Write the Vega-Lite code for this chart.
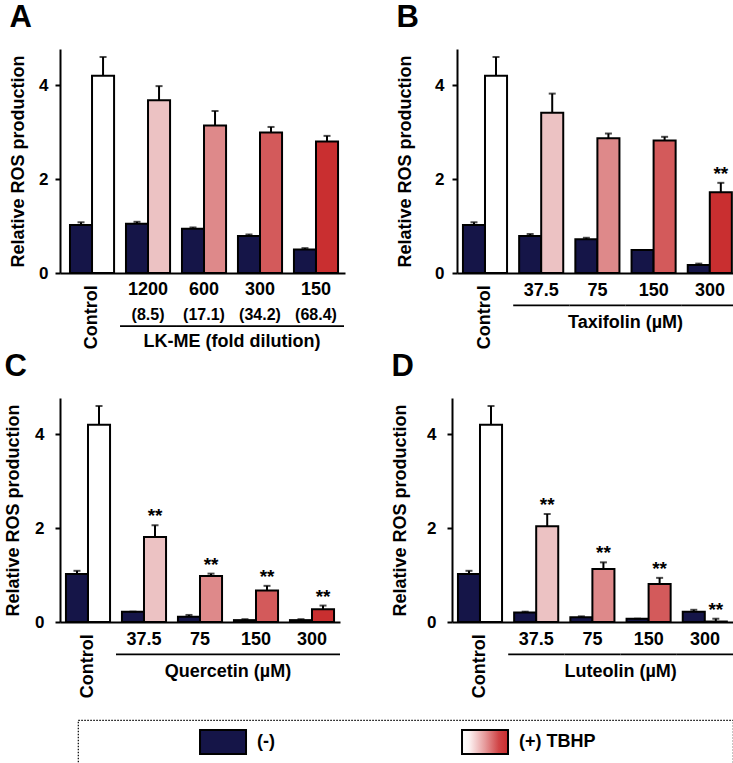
{
  "$schema": "https://vega.github.io/schema/vega-lite/v6.json",
  "padding": {"left": 4, "top": 2, "right": 0, "bottom": 0},
  "datasets": {
    "barsA": [
      {"group": "Control", "tbhp": "-", "dose": 0, "mean": 1.02, "upper": 1.08, "sig": ""},
      {"group": "Control", "tbhp": "+", "dose": 0, "mean": 4.2, "upper": 4.6, "sig": ""},
      {"group": "1200", "tbhp": "-", "dose": 1, "mean": 1.05, "upper": 1.09, "sig": ""},
      {"group": "1200", "tbhp": "+", "dose": 1, "mean": 3.68, "upper": 3.98, "sig": ""},
      {"group": "600", "tbhp": "-", "dose": 2, "mean": 0.94, "upper": 0.97, "sig": ""},
      {"group": "600", "tbhp": "+", "dose": 2, "mean": 3.14, "upper": 3.45, "sig": ""},
      {"group": "300", "tbhp": "-", "dose": 3, "mean": 0.79, "upper": 0.82, "sig": ""},
      {"group": "300", "tbhp": "+", "dose": 3, "mean": 2.99, "upper": 3.11, "sig": ""},
      {"group": "150", "tbhp": "-", "dose": 4, "mean": 0.5, "upper": 0.53, "sig": ""},
      {"group": "150", "tbhp": "+", "dose": 4, "mean": 2.8, "upper": 2.92, "sig": ""}
    ],
    "barsB": [
      {"group": "Control", "tbhp": "-", "dose": 0, "mean": 1.02, "upper": 1.08, "sig": ""},
      {"group": "Control", "tbhp": "+", "dose": 0, "mean": 4.2, "upper": 4.6, "sig": ""},
      {"group": "37.5", "tbhp": "-", "dose": 1, "mean": 0.79, "upper": 0.83, "sig": ""},
      {"group": "37.5", "tbhp": "+", "dose": 1, "mean": 3.41, "upper": 3.82, "sig": ""},
      {"group": "75", "tbhp": "-", "dose": 2, "mean": 0.72, "upper": 0.75, "sig": ""},
      {"group": "75", "tbhp": "+", "dose": 2, "mean": 2.87, "upper": 2.97, "sig": ""},
      {"group": "150", "tbhp": "-", "dose": 3, "mean": 0.49, "upper": 0.49, "sig": ""},
      {"group": "150", "tbhp": "+", "dose": 3, "mean": 2.82, "upper": 2.9, "sig": ""},
      {"group": "300", "tbhp": "-", "dose": 4, "mean": 0.17, "upper": 0.2, "sig": ""},
      {"group": "300", "tbhp": "+", "dose": 4, "mean": 1.72, "upper": 1.92, "sig": "**"}
    ],
    "barsC": [
      {"group": "Control", "tbhp": "-", "dose": 0, "mean": 1.02, "upper": 1.09, "sig": ""},
      {"group": "Control", "tbhp": "+", "dose": 0, "mean": 4.2, "upper": 4.6, "sig": ""},
      {"group": "37.5", "tbhp": "-", "dose": 1, "mean": 0.22, "upper": 0.22, "sig": ""},
      {"group": "37.5", "tbhp": "+", "dose": 1, "mean": 1.81, "upper": 2.06, "sig": "**"},
      {"group": "75", "tbhp": "-", "dose": 2, "mean": 0.11, "upper": 0.15, "sig": ""},
      {"group": "75", "tbhp": "+", "dose": 2, "mean": 0.98, "upper": 1.03, "sig": "**"},
      {"group": "150", "tbhp": "-", "dose": 3, "mean": 0.04, "upper": 0.06, "sig": ""},
      {"group": "150", "tbhp": "+", "dose": 3, "mean": 0.67, "upper": 0.77, "sig": "**"},
      {"group": "300", "tbhp": "-", "dose": 4, "mean": 0.04, "upper": 0.06, "sig": ""},
      {"group": "300", "tbhp": "+", "dose": 4, "mean": 0.27, "upper": 0.35, "sig": "**"}
    ],
    "barsD": [
      {"group": "Control", "tbhp": "-", "dose": 0, "mean": 1.02, "upper": 1.09, "sig": ""},
      {"group": "Control", "tbhp": "+", "dose": 0, "mean": 4.2, "upper": 4.6, "sig": ""},
      {"group": "37.5", "tbhp": "-", "dose": 1, "mean": 0.2, "upper": 0.22, "sig": ""},
      {"group": "37.5", "tbhp": "+", "dose": 1, "mean": 2.04, "upper": 2.3, "sig": "**"},
      {"group": "75", "tbhp": "-", "dose": 2, "mean": 0.1, "upper": 0.12, "sig": ""},
      {"group": "75", "tbhp": "+", "dose": 2, "mean": 1.13, "upper": 1.27, "sig": "**"},
      {"group": "150", "tbhp": "-", "dose": 3, "mean": 0.07, "upper": 0.07, "sig": ""},
      {"group": "150", "tbhp": "+", "dose": 3, "mean": 0.81, "upper": 0.94, "sig": "**"},
      {"group": "300", "tbhp": "-", "dose": 4, "mean": 0.22, "upper": 0.26, "sig": ""},
      {"group": "300", "tbhp": "+", "dose": 4, "mean": 0.01, "upper": 0.07, "sig": "**"}
    ],
    "labA": [
      {"group": "1200", "main": "1200", "sub": "(8.5)"},
      {"group": "600", "main": "600", "sub": "(17.1)"},
      {"group": "300", "main": "300", "sub": "(34.2)"},
      {"group": "150", "main": "150", "sub": "(68.4)"}
    ],
    "labConc": [
      {"group": "37.5", "main": "37.5"},
      {"group": "75", "main": "75"},
      {"group": "150", "main": "150"},
      {"group": "300", "main": "300"}
    ],
    "ctrl": [{"group": "Control", "text": "Control"}]
  },
  "vconcat": [
    {
      "vconcat": [
        {
          "hconcat": [
            {
              "title": {"text": "A"},
              "width": 285,
              "height": 224,
              "encoding": {
                "x": {"field": "group", "type": "nominal", "scale": {"domain": ["Control", "1200", "600", "300", "150"], "paddingInner": 0, "paddingOuter": 0.045, "align": 0.8}, "axis": {"labels": false, "ticks": false, "title": null}}
              },
              "layer": [
                {"data": {"name": "barsA"}, "mark": {"type": "bar", "stroke": "black", "strokeWidth": 2},
                 "encoding": {
                   "xOffset": {"field": "tbhp", "type": "nominal", "scale": {"domain": ["-", "+"], "paddingInner": 0, "paddingOuter": 0.27}},
                   "y": {"field": "mean", "type": "quantitative", "scale": {"domain": [0, 4.77], "nice": false}, "axis": {"values": [0, 2, 4], "title": "Relative ROS production", "labelPadding": 7, "titlePadding": 11}},
                   "fill": {"condition": {"test": "datum.tbhp === '-'", "value": "#151548"}, "field": "dose", "type": "ordinal", "scale": {"domain": [0, 1, 2, 3, 4], "range": ["#ffffff", "#ecc2c3", "#de898a", "#d35a5b", "#c92f30"]}, "legend": null}
                 }},
                {"data": {"name": "barsA"}, "mark": {"type": "rule", "color": "black", "strokeWidth": 2},
                 "encoding": {"xOffset": {"field": "tbhp", "type": "nominal"}, "y": {"field": "mean", "type": "quantitative"}, "y2": {"field": "upper"}}},
                {"data": {"name": "barsA"}, "mark": {"type": "tick", "color": "black", "thickness": 2, "size": 7},
                 "encoding": {"xOffset": {"field": "tbhp", "type": "nominal"}, "y": {"field": "upper", "type": "quantitative"}}},
                {"data": {"name": "labA"}, "mark": {"type": "text", "fontSize": 18, "fontWeight": "bold", "baseline": "middle", "color": "black"},
                 "encoding": {"y": {"datum": -0.37}, "text": {"field": "main"}}},
                {"data": {"name": "labA"}, "mark": {"type": "text", "fontSize": 16, "fontWeight": "bold", "baseline": "middle", "color": "black"},
                 "encoding": {"y": {"datum": -0.89}, "text": {"field": "sub"}}},
                {"data": {"name": "labA"}, "mark": {"type": "bar", "color": "black"},
                 "encoding": {"y": {"datum": -1.11}, "y2": {"datum": -1.15}}},
                {"data": {"name": "ctrl"}, "mark": {"type": "text", "angle": 270, "align": "right", "baseline": "middle", "fontSize": 18, "fontWeight": "bold", "color": "black"},
                 "encoding": {"y": {"datum": -0.26}, "text": {"field": "text"}}},
                {"data": {"values": [{"group": "600", "text": "LK-ME (fold dilution)"}]}, "mark": {"type": "text", "fontSize": 18, "fontWeight": "bold", "baseline": "middle", "color": "black"},
                 "encoding": {"x": {"field": "group", "type": "nominal", "bandPosition": 1, "scale": {"domain": ["Control", "1200", "600", "300", "150"], "paddingInner": 0, "paddingOuter": 0.045, "align": 0.8}}, "y": {"datum": -1.47}, "text": {"field": "text"}}}
              ]
            },
            {
              "title": {"text": "B"},
              "width": 281,
              "height": 224,
              "encoding": {
                "x": {"field": "group", "type": "nominal", "scale": {"domain": ["Control", "37.5", "75", "150", "300"], "paddingInner": 0, "paddingOuter": 0}, "axis": {"labels": false, "ticks": false, "title": null}}
              },
              "layer": [
                {"data": {"name": "barsB"}, "mark": {"type": "bar", "stroke": "black", "strokeWidth": 2},
                 "encoding": {
                   "xOffset": {"field": "tbhp", "type": "nominal", "scale": {"domain": ["-", "+"], "paddingInner": 0, "paddingOuter": 0.27}},
                   "y": {"field": "mean", "type": "quantitative", "scale": {"domain": [0, 4.77], "nice": false}, "axis": {"values": [0, 2, 4], "title": "Relative ROS production", "labelPadding": 8, "titlePadding": 20}},
                   "fill": {"condition": {"test": "datum.tbhp === '-'", "value": "#151548"}, "field": "dose", "type": "ordinal", "scale": {"domain": [0, 1, 2, 3, 4], "range": ["#ffffff", "#ecc2c3", "#de898a", "#d35a5b", "#c92f30"]}, "legend": null}
                 }},
                {"data": {"name": "barsB"}, "mark": {"type": "rule", "color": "black", "strokeWidth": 2},
                 "encoding": {"xOffset": {"field": "tbhp", "type": "nominal"}, "y": {"field": "mean", "type": "quantitative"}, "y2": {"field": "upper"}}},
                {"data": {"name": "barsB"}, "mark": {"type": "tick", "color": "black", "thickness": 2, "size": 7},
                 "encoding": {"xOffset": {"field": "tbhp", "type": "nominal"}, "y": {"field": "upper", "type": "quantitative"}}},
                {"data": {"name": "barsB"}, "transform": [{"filter": "datum.sig != ''"}], "mark": {"type": "text", "fontSize": 19, "fontWeight": "bold", "baseline": "alphabetic", "dy": -3, "color": "black"},
                 "encoding": {"xOffset": {"field": "tbhp", "type": "nominal"}, "y": {"field": "upper", "type": "quantitative"}, "text": {"field": "sig"}}},
                {"data": {"name": "labConc"}, "mark": {"type": "text", "fontSize": 18, "fontWeight": "bold", "baseline": "middle", "color": "black"},
                 "encoding": {"y": {"datum": -0.38}, "text": {"field": "main"}}},
                {"data": {"name": "labConc"}, "mark": {"type": "bar", "color": "black"},
                 "encoding": {"y": {"datum": -0.67}, "y2": {"datum": -0.71}}},
                {"data": {"name": "ctrl"}, "mark": {"type": "text", "angle": 270, "align": "right", "baseline": "middle", "fontSize": 18, "fontWeight": "bold", "color": "black"},
                 "encoding": {"y": {"datum": -0.26}, "text": {"field": "text"}}},
                {"data": {"values": [{"group": "75", "text": "Taxifolin (µM)"}]}, "mark": {"type": "text", "fontSize": 18, "fontWeight": "bold", "baseline": "middle", "color": "black"},
                 "encoding": {"x": {"field": "group", "type": "nominal", "bandPosition": 1, "scale": {"domain": ["Control", "37.5", "75", "150", "300"], "paddingInner": 0, "paddingOuter": 0}}, "y": {"datum": -1.07}, "text": {"field": "text"}}}
              ]
            }
          ],
          "spacing": 51
        },
        {
          "hconcat": [
            {
              "title": {"text": "C"},
              "width": 280,
              "height": 224,
              "encoding": {
                "x": {"field": "group", "type": "nominal", "scale": {"domain": ["Control", "37.5", "75", "150", "300"], "paddingInner": 0, "paddingOuter": 0}, "axis": {"labels": false, "ticks": false, "title": null}}
              },
              "layer": [
                {"data": {"name": "barsC"}, "mark": {"type": "bar", "stroke": "black", "strokeWidth": 2},
                 "encoding": {
                   "xOffset": {"field": "tbhp", "type": "nominal", "scale": {"domain": ["-", "+"], "paddingInner": 0, "paddingOuter": 0.27}},
                   "y": {"field": "mean", "type": "quantitative", "scale": {"domain": [0, 4.77], "nice": false}, "axis": {"values": [0, 2, 4], "title": "Relative ROS production", "labelPadding": 11, "titlePadding": 12}},
                   "fill": {"condition": {"test": "datum.tbhp === '-'", "value": "#151548"}, "field": "dose", "type": "ordinal", "scale": {"domain": [0, 1, 2, 3, 4], "range": ["#ffffff", "#ecc2c3", "#de898a", "#d35a5b", "#c92f30"]}, "legend": null}
                 }},
                {"data": {"name": "barsC"}, "mark": {"type": "rule", "color": "black", "strokeWidth": 2},
                 "encoding": {"xOffset": {"field": "tbhp", "type": "nominal"}, "y": {"field": "mean", "type": "quantitative"}, "y2": {"field": "upper"}}},
                {"data": {"name": "barsC"}, "mark": {"type": "tick", "color": "black", "thickness": 2, "size": 7},
                 "encoding": {"xOffset": {"field": "tbhp", "type": "nominal"}, "y": {"field": "upper", "type": "quantitative"}}},
                {"data": {"name": "barsC"}, "transform": [{"filter": "datum.sig != ''"}], "mark": {"type": "text", "fontSize": 19, "fontWeight": "bold", "baseline": "alphabetic", "dy": -3, "color": "black"},
                 "encoding": {"xOffset": {"field": "tbhp", "type": "nominal"}, "y": {"field": "upper", "type": "quantitative"}, "text": {"field": "sig"}}},
                {"data": {"name": "labConc"}, "mark": {"type": "text", "fontSize": 18, "fontWeight": "bold", "baseline": "middle", "color": "black"},
                 "encoding": {"y": {"datum": -0.38}, "text": {"field": "main"}}},
                {"data": {"name": "labConc"}, "mark": {"type": "bar", "color": "black"},
                 "encoding": {"y": {"datum": -0.67}, "y2": {"datum": -0.71}}},
                {"data": {"name": "ctrl"}, "mark": {"type": "text", "angle": 270, "align": "right", "baseline": "middle", "fontSize": 18, "fontWeight": "bold", "color": "black"},
                 "encoding": {"y": {"datum": -0.26}, "text": {"field": "text"}}},
                {"data": {"values": [{"group": "75", "text": "Quercetin (µM)"}]}, "mark": {"type": "text", "fontSize": 18, "fontWeight": "bold", "baseline": "middle", "color": "black"},
                 "encoding": {"x": {"field": "group", "type": "nominal", "bandPosition": 1, "scale": {"domain": ["Control", "37.5", "75", "150", "300"], "paddingInner": 0, "paddingOuter": 0}}, "y": {"datum": -1.07}, "text": {"field": "text"}}}
              ]
            },
            {
              "title": {"text": "D"},
              "width": 281,
              "height": 224,
              "encoding": {
                "x": {"field": "group", "type": "nominal", "scale": {"domain": ["Control", "37.5", "75", "150", "300"], "paddingInner": 0, "paddingOuter": 0}, "axis": {"labels": false, "ticks": false, "title": null}}
              },
              "layer": [
                {"data": {"name": "barsD"}, "mark": {"type": "bar", "stroke": "black", "strokeWidth": 2},
                 "encoding": {
                   "xOffset": {"field": "tbhp", "type": "nominal", "scale": {"domain": ["-", "+"], "paddingInner": 0, "paddingOuter": 0.27}},
                   "y": {"field": "mean", "type": "quantitative", "scale": {"domain": [0, 4.77], "nice": false}, "axis": {"values": [0, 2, 4], "title": "Relative ROS production", "labelPadding": 11, "titlePadding": 17}},
                   "fill": {"condition": {"test": "datum.tbhp === '-'", "value": "#151548"}, "field": "dose", "type": "ordinal", "scale": {"domain": [0, 1, 2, 3, 4], "range": ["#ffffff", "#ecc2c3", "#de898a", "#d35a5b", "#c92f30"]}, "legend": null}
                 }},
                {"data": {"name": "barsD"}, "mark": {"type": "rule", "color": "black", "strokeWidth": 2},
                 "encoding": {"xOffset": {"field": "tbhp", "type": "nominal"}, "y": {"field": "mean", "type": "quantitative"}, "y2": {"field": "upper"}}},
                {"data": {"name": "barsD"}, "mark": {"type": "tick", "color": "black", "thickness": 2, "size": 7},
                 "encoding": {"xOffset": {"field": "tbhp", "type": "nominal"}, "y": {"field": "upper", "type": "quantitative"}}},
                {"data": {"name": "barsD"}, "transform": [{"filter": "datum.sig != ''"}], "mark": {"type": "text", "fontSize": 19, "fontWeight": "bold", "baseline": "alphabetic", "dy": -3, "color": "black"},
                 "encoding": {"xOffset": {"field": "tbhp", "type": "nominal"}, "y": {"field": "upper", "type": "quantitative"}, "text": {"field": "sig"}}},
                {"data": {"name": "labConc"}, "mark": {"type": "text", "fontSize": 18, "fontWeight": "bold", "baseline": "middle", "color": "black"},
                 "encoding": {"y": {"datum": -0.38}, "text": {"field": "main"}}},
                {"data": {"name": "labConc"}, "mark": {"type": "bar", "color": "black"},
                 "encoding": {"y": {"datum": -0.67}, "y2": {"datum": -0.71}}},
                {"data": {"name": "ctrl"}, "mark": {"type": "text", "angle": 270, "align": "right", "baseline": "middle", "fontSize": 18, "fontWeight": "bold", "color": "black"},
                 "encoding": {"y": {"datum": -0.26}, "text": {"field": "text"}}},
                {"data": {"values": [{"group": "75", "text": "Luteolin (µM)"}]}, "mark": {"type": "text", "fontSize": 18, "fontWeight": "bold", "baseline": "middle", "color": "black"},
                 "encoding": {"x": {"field": "group", "type": "nominal", "bandPosition": 1, "scale": {"domain": ["Control", "37.5", "75", "150", "300"], "paddingInner": 0, "paddingOuter": 0}}, "y": {"datum": -1.07}, "text": {"field": "text"}}}
              ]
            }
          ],
          "spacing": 51
        }
      ],
      "spacing": -1
    },
    {
      "hconcat": [
        {"data": {"values": [{}]}, "mark": {"type": "text", "text": ""}, "width": 6, "height": 44, "view": {"stroke": null}},
        {
          "width": 655,
          "height": 44,
          "view": {"stroke": "black", "strokeDash": [1.5, 1.5], "strokeWidth": 1.2},
          "data": {"values": [{"item": "(-)"}, {"item": "(+) TBHP"}]},
          "encoding": {"x": {"field": "item", "type": "nominal", "scale": {"type": "point", "domain": ["(-)", "(+) TBHP"], "padding": 0.75, "align": 0.369}, "axis": null}},
          "layer": [
            {"transform": [{"filter": "datum.item === '(-)'"}], "mark": {"type": "bar", "width": 46, "fill": "#151548", "stroke": "black", "strokeWidth": 2},
             "encoding": {"y": {"datum": 0.227, "type": "quantitative", "scale": {"domain": [0, 1], "nice": false}, "axis": null}, "y2": {"datum": 0.773}}},
            {"transform": [{"filter": "datum.item === '(+) TBHP'"}], "mark": {"type": "bar", "width": 46, "stroke": "black", "strokeWidth": 2,
              "fill": {"gradient": "linear", "x1": 0, "x2": 1, "y1": 0, "y2": 0, "stops": [{"offset": 0, "color": "#ffffff"}, {"offset": 0.15, "color": "#fdf4f4"}, {"offset": 0.5, "color": "#e69a9b"}, {"offset": 0.8, "color": "#d04446"}, {"offset": 1, "color": "#c92c2e"}]}},
             "encoding": {"y": {"datum": 0.227, "type": "quantitative", "axis": null}, "y2": {"datum": 0.773}}},
            {"mark": {"type": "text", "align": "left", "dx": 34, "fontSize": 18, "fontWeight": "bold", "baseline": "middle", "color": "black"},
             "encoding": {"y": {"datum": 0.5, "type": "quantitative", "axis": null}, "text": {"field": "item"}}}
          ]
        }
      ],
      "spacing": 11
    }
  ],
  "spacing": 20,
  "align": "none",
  "config": {
    "font": "Liberation Sans",
    "view": {"stroke": null},
    "title": {"fontSize": 31, "fontWeight": "bold", "anchor": "start", "frame": "bounds", "baseline": "alphabetic", "offset": 15, "color": "black"},
    "axis": {"labelFontSize": 17, "labelFontWeight": "bold", "labelColor": "black", "titleFontSize": 18, "titleFontWeight": "bold", "titleColor": "black", "domainColor": "black", "domainWidth": 2, "tickColor": "black", "tickWidth": 2, "tickSize": 5, "grid": false}
  }
}
